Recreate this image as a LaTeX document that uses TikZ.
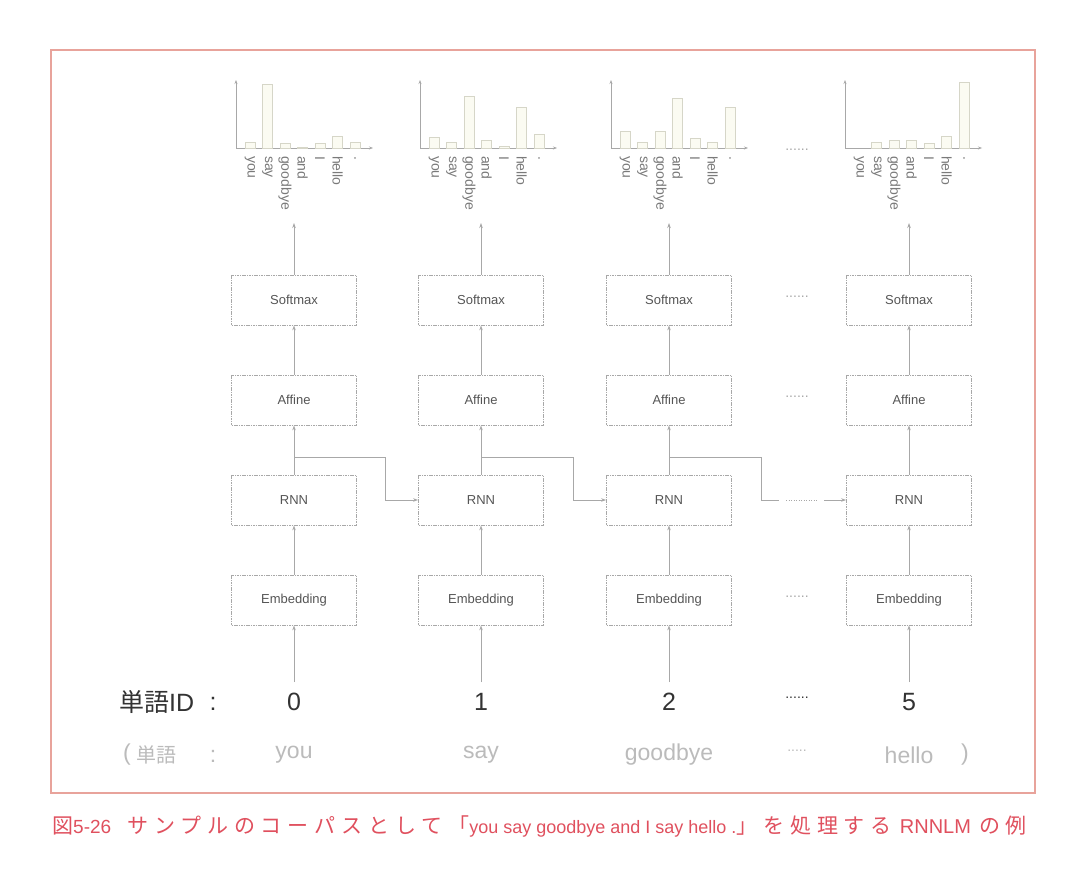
\documentclass[tikz,border=0pt]{standalone}
\usepackage{fontspec}
\setmainfont{Liberation Sans}
\newfontfamily\jp{Noto Sans CJK JP}
\newfontfamily\jpcap[LetterSpace=28]{Noto Sans CJK JP}
\usetikzlibrary{arrows.meta,calc}
\definecolor{framec}{HTML}{E8A39B}
\definecolor{capc}{HTML}{E0505E}
\definecolor{linec}{HTML}{A8A8A8}
\definecolor{boxtext}{HTML}{555555}
\definecolor{lbltext}{HTML}{7A7A7A}
\definecolor{idtext}{HTML}{333333}
\definecolor{wordtext}{HTML}{BBBBBB}
\definecolor{barline}{HTML}{D6D6C8}
\definecolor{barfill}{HTML}{FBFBF2}
\newcommand{\cj}[1]{{\jpcap\fontsize{21}{24}\selectfont #1}}
\tikzset{
  layer/.style={draw=linec, dash pattern=on 1.6pt off 0.8pt, line width=0.8pt,
    minimum width=125pt, minimum height=50pt, inner sep=0pt,
    font=\fontsize{13}{15}\selectfont, text=boxtext},
  arr/.style={draw=linec, line width=0.8pt, -{Stealth[length=5pt,width=3.5pt]}},
  plain/.style={draw=linec, line width=0.8pt},
  dotl/.style={draw=linec, line width=0.9pt, dash pattern=on 1pt off 1.5pt},
  axis/.style={draw=linec, line width=0.8pt, -{Stealth[length=4pt,width=3pt]}},
  bar/.style={draw=barline, fill=barfill, line width=0.8pt},
  wlbl/.style={rotate=-90, anchor=west, inner sep=0pt, text=lbltext,
    font=\fontsize{14}{15}\selectfont},
  dots/.style={text=linec, font=\fontsize{14}{16}\selectfont, inner sep=0pt},
  idrow/.style={text=idtext, font=\fontsize{25}{28}\selectfont, inner sep=0pt},
  wordrow/.style={text=wordtext, font=\fontsize{23}{26}\selectfont, inner sep=0pt}
}
\begin{document}
\begin{tikzpicture}[x=1pt,y=-1pt]
\useasboundingbox (0,0) rectangle (1091,872);
\fill[white] (0,0) rectangle (1091,872);
% frame
\draw[framec, line width=1.2pt] (51,50) rectangle (1035,793);

% columns
\foreach \i/\cx/\ax/\hs in {1/294/236/{6,64,5,1,5,12,6},
                            2/481/420/{11,6,52,8,2,41,14},
                            3/669/611/{17,6,17,50,10,6,41},
                            4/909/845/{0,6,8,8,5,12,66}} {
  \node[layer] (sm\i) at (\cx,300) {Softmax};
  \node[layer] (af\i) at (\cx,400) {Affine};
  \node[layer] (rn\i) at (\cx,500) {RNN};
  \node[layer] (em\i) at (\cx,600) {Embedding};
  \coordinate (top\i) at (\cx,223);
  \coordinate (in\i) at (\cx,682);
  \draw[arr] (sm\i) -- (top\i);
  \draw[arr] (af\i) -- (sm\i);
  \draw[arr] (rn\i) -- (af\i);
  \draw[arr] (em\i) -- (rn\i);
  \draw[arr] (in\i) -- (em\i);
  % chart
  \draw[axis] (\ax,148) -- (\ax,80);
  \draw[axis] (\ax,148) -- (\ax+137,148);
  \foreach \h [count=\k from 0] in \hs {
    \ifnum\h>0
      \draw[bar] (\ax+9+17.5*\k,148) rectangle (\ax+19+17.5*\k,148-\h);
    \fi
  }
  \foreach \w [count=\k from 0] in {you,say,goodbye,and,I,hello,.} {
    \node[wlbl] (lbl-\i-\k) at (\ax+14+17.5*\k,156) {\w};
  }
}

% recurrent connections
\coordinate (b1) at (294,457); \coordinate (c1) at (385,457);
\coordinate (b2) at (481,457); \coordinate (c2) at (573,457);
\coordinate (b3) at (669,457); \coordinate (c3) at (761,457);
\coordinate (d3) at (779,500); \coordinate (e3) at (786,500);
\coordinate (f3) at (818,500); \coordinate (g3) at (824,500);
\draw[arr] (b1) -- (c1) |- (rn2.west);
\draw[arr] (b2) -- (c2) |- (rn3.west);
\draw[plain] (b3) -- (c3) |- (d3);
\draw[dotl] (e3) -- (f3);
\draw[arr] (g3) -- (rn4.west);

% ellipses between columns 3 and 4
\node[dots] (dchart) at (797,150) {......};
\node[dots] (dsm) at (797,297) {......};
\node[dots] (daf) at (797,397) {......};
\node[dots] (dem) at (797,597) {......};

% word ID row
\node[idrow, anchor=west] (idlbl) at (119,702) {{\jp 単語}ID};
\node[idrow] (idcolon) at (213,704) {:};
\node[idrow] (id1) at (294,702) {0};
\node[idrow] (id2) at (481,702) {1};
\node[idrow] (id3) at (669,702) {2};
\node[dots, text=idtext] (iddots) at (797,698) {......};
\node[idrow] (id4) at (909,702) {5};

% word row
\node[wordrow] (wparl) at (127,755) {(};
\node[wordrow] (wlbl) at (156,755) {\jp\fontsize{20}{24}\selectfont 単語};
\node[wordrow] (wcolon) at (213,756) {:};
\node[wordrow] (w1) at (294,755) {you};
\node[wordrow] (w2) at (481,755) {say};
\node[wordrow] (w3) at (669,755) {goodbye};
\node[dots, text=wordtext] (wdots) at (797,751) {.....};
\node[wordrow] (w4) at (909,755) {hello};
\node[wordrow] (wparr) at (965,755) {)};

% caption
\node[anchor=west, inner sep=0pt, text=capc, font=\fontsize{18}{22}\selectfont] (cap) at (52,826)
  {\cj{図}{\fontsize{19}{22}\selectfont 5-26}\hspace{16pt}\cj{サンプルのコーパスとして「}you say goodbye and I say hello .\cj{」を処理する}\hspace{8pt}{\fontsize{20}{22}\selectfont RNNLM}\hspace{8pt}\cj{の例}};
\end{tikzpicture}
\end{document}
